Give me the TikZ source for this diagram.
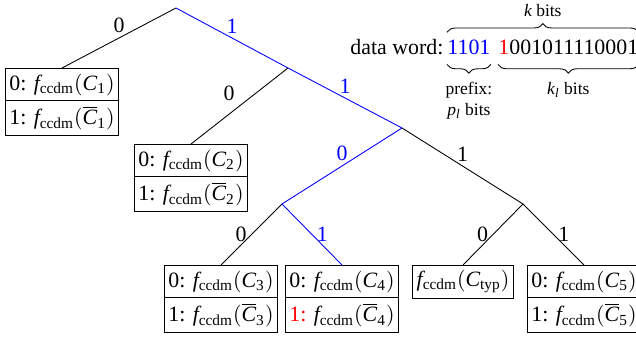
\documentclass[tikz,border=0pt]{standalone}
\usepackage{amsmath}
\usepackage{fontspec}
\setmainfont{Liberation Serif}
\usetikzlibrary{positioning, shapes.multipart, decorations.pathreplacing}

\newcommand{\fc}[1]{\mathit{f}_{\mathrm{ccdm}}\mathrm{(}#1\mathrm{)}}
\newcommand{\cC}[1]{\mathit{C}_{\mathrm{#1}}}
\newcommand{\cCbar}[1]{\overline{\mathit{C}}_{\mathrm{#1}}}

\begin{document}
\begin{tikzpicture}[
        x=0.457pt, y=-0.457pt,
        leaf/.style={draw, rectangle split, rectangle split parts=2, inner xsep=2pt, inner ysep=2.2pt, anchor=north},
        single/.style={draw, inner xsep=2pt, inner ysep=2.2pt, anchor=north},
        lbl/.style={inner sep=2pt},
        brc/.style={decorate, decoration={brace, amplitude=4pt}},
        small/.style={font=\footnotesize, align=center, inner sep=1pt}
    ]
        \useasboundingbox (0,0) rectangle (636,339);

        % branch points
        \coordinate (root) at (176,8);
        \coordinate (n1)   at (288,68);
        \coordinate (n11)  at (402,128);
        \coordinate (n110) at (282,204);
        \coordinate (n111) at (523,204);

        % leaves
        \node[leaf] (c1) at (62,68) {0: $\fc{\cC{1}}$ \nodepart{two} 1: $\fc{\cCbar{1}}$};
        \node[leaf] (c2) at (191,144) {0: $\fc{\cC{2}}$ \nodepart{two} 1: $\fc{\cCbar{2}}$};
        \node[leaf] (c3) at (221,265) {0: $\fc{\cC{3}}$ \nodepart{two} 1: $\fc{\cCbar{3}}$};
        \node[leaf] (c4) at (342,265) {0: $\fc{\cC{4}}$ \nodepart{two} {\color{red}1:} $\fc{\cCbar{4}}$};
        \node[single] (ct) at (463,265) {$\fc{\cC{typ}}$};
        \node[leaf] (c5) at (584,265) {0: $\fc{\cC{5}}$ \nodepart{two} 1: $\fc{\cCbar{5}}$};

        % edges
        \draw (root) -- node[lbl, above] {0} (c1.north);
        \draw[blue] (root) -- node[lbl, above] {1} (n1);
        \draw (n1) -- node[lbl, above left] {0} (c2.north);
        \draw[blue] (n1) -- node[lbl, above] {1} (n11);
        \draw[blue] (n11) -- node[lbl, above] {0} (n110);
        \draw (n11) -- node[lbl, above] {1} (n111);
        \draw (n110) -- node[lbl, left] {0} (c3.north);
        \draw[blue] (n110) -- node[lbl, right] {1} (c4.north);
        \draw (n111) -- node[lbl, left] {0} (ct.north);
        \draw (n111) -- node[lbl, right] {1} (c5.north);

        % data word
        \node[anchor=base west, inner sep=0] (dw) at (350,55) {data word:};
        \node[anchor=base west, inner sep=0, text=blue] (pre) at (447,55) {1101};
        \node[anchor=base west, inner sep=0] (suf) at (498,55) {{\color{red}1}001011110001};

        \draw[brc] ([yshift=3.5pt]pre.north west) -- node[small, above=6pt] {$\mathit{k}$ bits} ([yshift=3.5pt]suf.north east);
        \draw[brc] ([yshift=-4pt]pre.south east) -- node[small, below=7pt] {prefix:\\$\mathit{p}_{\mathit{l}}$ bits} ([yshift=-4pt]pre.south west);
        \draw[brc] ([yshift=-4pt]suf.south east) -- node[small, below=7pt] {$\mathit{k}_{\mathit{l}}$ bits} ([yshift=-4pt]suf.south west);
    \end{tikzpicture}
\end{document}
